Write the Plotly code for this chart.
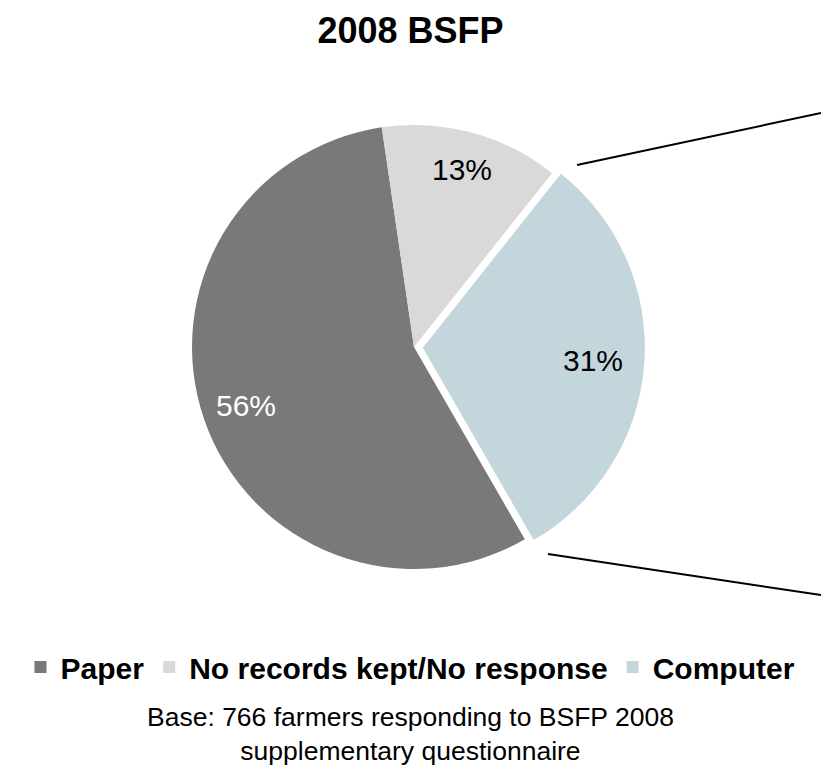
import math
import plotly.graph_objects as go

# ---------------- data ----------------
labels = ["Paper", "No records kept/No response", "Computer"]
values = [56, 13, 31]
title_text = "2008 BSFP"
footnote = "Base: 766 farmers responding to BSFP 2008<br>supplementary questionnaire"

# ---------------- style ----------------
W, H = 821, 779
colors = ["#797979", "#d9d9d9", "#c3d6dc"]
label_colors = ["#ffffff", "#000000", "#000000"]
pulls = [0, 0, 0.04]
rotation = 150.05
cx_px, cy_px, r_px = 414, 347, 222
label_r = [0.8, 0.83, 0.77]
FONT = "Liberation Sans, Arial, sans-serif"

# connector lines (pie-of-pie style), pixel positions
connectors = [((577, 165), (821, 113)), ((548, 554), (821, 595))]

half = r_px * (1 + max(pulls))
domain_x = [(cx_px - half) / W, (cx_px + half) / W]
domain_y = [1 - (cy_px + half) / H, 1 - (cy_px - half) / H]

fig = go.Figure()
fig.add_trace(go.Pie(
    labels=labels,
    values=values,
    sort=False,
    direction="clockwise",
    rotation=rotation,
    pull=pulls,
    marker=dict(colors=colors, line=dict(width=0)),
    textinfo="none",
    hoverinfo="label+percent",
    domain=dict(x=domain_x, y=domain_y),
    showlegend=True,
))

# percentage labels placed from the data values
total = sum(values)
annotations = []
start = rotation
for v, col, p, k in zip(values, label_colors, pulls, label_r):
    span = v / total * 360
    mid = math.radians(start + span / 2)
    start += span
    dx, dy = math.sin(mid), -math.cos(mid)
    px = cx_px + p * r_px * dx + k * r_px * dx
    py = cy_px + p * r_px * dy + k * r_px * dy
    annotations.append(dict(
        x=px / W, y=1 - py / H, xref="paper", yref="paper",
        text=f"{round(v / total * 100)}%", showarrow=False,
        xanchor="center", yanchor="middle",
        font=dict(family=FONT, size=30, color=col),
    ))

annotations.append(dict(
    x=0.5, y=1 - 734 / H, xref="paper", yref="paper",
    text=footnote, showarrow=False, xanchor="center", yanchor="middle",
    font=dict(family=FONT, size=26.5, color="#000000"),
))

shapes = []
for (x0, y0), (x1, y1) in connectors:
    shapes.append(dict(type="line", xref="paper", yref="paper",
                       x0=x0 / W, y0=1 - y0 / H, x1=x1 / W, y1=1 - y1 / H,
                       line=dict(color="#000000", width=2)))

fig.update_layout(
    width=W, height=H,
    margin=dict(l=0, r=0, t=0, b=0),
    paper_bgcolor="white", plot_bgcolor="white",
    title=dict(text=f"<b>{title_text}</b>", x=0.5, xanchor="center",
               y=1 - 30 / H, yanchor="middle", yref="container",
               font=dict(family=FONT, size=36, color="#000000")),
    legend=dict(orientation="h", x=0.5, xanchor="center",
                y=1 - 667 / H, yanchor="middle",
                font=dict(family=FONT, size=30, color="#000000", weight="bold"),
                itemwidth=30, tracegroupgap=0),
    annotations=annotations,
    shapes=shapes,
)

fig.write_html("out.html")
